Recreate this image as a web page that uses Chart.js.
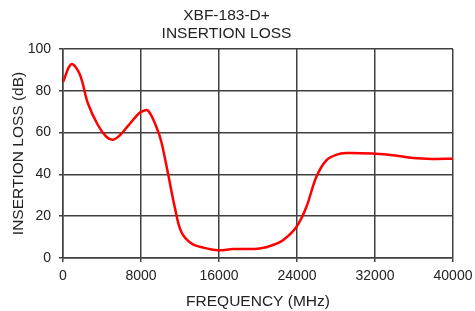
<!DOCTYPE html>
<html>
<head>
<meta charset="utf-8">
<script src="https://cdn.jsdelivr.net/npm/chart.js@4.4.0/dist/chart.umd.min.js"></script>
<style>
  html, body { margin: 0; padding: 0; background: #fff; }
  #wrap { width: 475px; height: 311px; }
</style>
</head>
<body>
<div id="wrap"><canvas id="chart" width="475" height="311"></canvas></div>
<script>
// Данные
const freqMHz = [0, 860, 1709, 2560, 3590, 4444, 5130, 5812, 6670, 7500, 8040, 8700, 9580, 10090,
  10770, 11460, 12140, 13170, 14359, 15900, 17436, 19487, 20170, 21400, 22560, 23930, 24960,
  25980, 27010, 28000, 29060, 32000, 33846, 35930, 37949, 40000];
const lossDb = [84.2, 92.7, 88.0, 73.9, 63.5, 58, 56.6, 58.6, 63.2, 67.8, 70.0, 70.6, 62.7, 55.5,
  40.4, 24.4, 12.4, 6.9, 5.0, 3.7, 4.3, 4.3, 4.5, 6.0, 8.5, 14.8, 24.4,
  38.8, 46.7, 49.3, 50.2, 49.9, 49.2, 47.8, 47.4, 47.5];
const xTicks = [0, 8000, 16000, 24000, 32000, 40000];
const yTicks = [0, 20, 40, 60, 80, 100];
const titleLines = ['XBF-183-D+', 'INSERTION LOSS'];

const FONT = 'Liberation Sans, Arial, sans-serif';
const GRID = '#404040';

const ctx = document.getElementById('chart').getContext('2d');
new Chart(ctx, {
  type: 'scatter',
  data: {
    datasets: [{
      data: freqMHz.map((f, i) => ({ x: f, y: lossDb[i] })),
      showLine: true,
      borderColor: '#ff0000',
      borderWidth: 2.5,
      pointRadius: 0,
      tension: 0.35,
      fill: false
    }]
  },
  options: {
    responsive: false,
    animation: false,
    layout: { padding: { left: 0, right: 22, top: 0, bottom: 0 } },
    plugins: {
      legend: { display: false },
      tooltip: { enabled: false },
      title: {
        display: true,
        text: titleLines,
        color: '#222',
        font: { family: FONT, size: 15.5, weight: 'normal', lineHeight: 1.16 },
        padding: { top: 7, bottom: 6 }
      }
    },
    scales: {
      x: {
        type: 'linear',
        min: 0,
        max: 40000,
        afterBuildTicks: s => { s.ticks = xTicks.map(v => ({ value: v })); },
        afterFit: s => { s.height = 53; s.paddingLeft = 0; s.paddingRight = 0; },
        grid: { color: GRID, lineWidth: 1.5, tickLength: 4, drawTicks: true },
        border: { color: GRID, width: 1.5 },
        ticks: {
          color: '#222',
          font: { family: FONT, size: 14 },
          padding: 6,
          maxRotation: 0,
          callback: v => String(v)
        },
        title: {
          display: true,
          text: 'FREQUENCY (MHz)',
          color: '#222',
          font: { family: FONT, size: 15.5, lineHeight: 1.16 },
          padding: { top: 9.5, bottom: 0 }
        }
      },
      y: {
        min: 0,
        max: 100,
        afterBuildTicks: s => { s.ticks = yTicks.map(v => ({ value: v })); },
        afterFit: s => { s.width = 63; },
        grid: { color: GRID, lineWidth: 1.5, tickLength: 4 },
        border: { color: GRID, width: 1.5 },
        ticks: {
          color: '#222',
          font: { family: FONT, size: 14 },
          padding: 8
        },
        title: {
          display: true,
          text: 'INSERTION LOSS (dB)',
          color: '#222',
          font: { family: FONT, size: 15.5, lineHeight: 1.16 },
          padding: { top: 10, bottom: 0 }
        }
      }
    }
  }
});
</script>
</body>
</html>
